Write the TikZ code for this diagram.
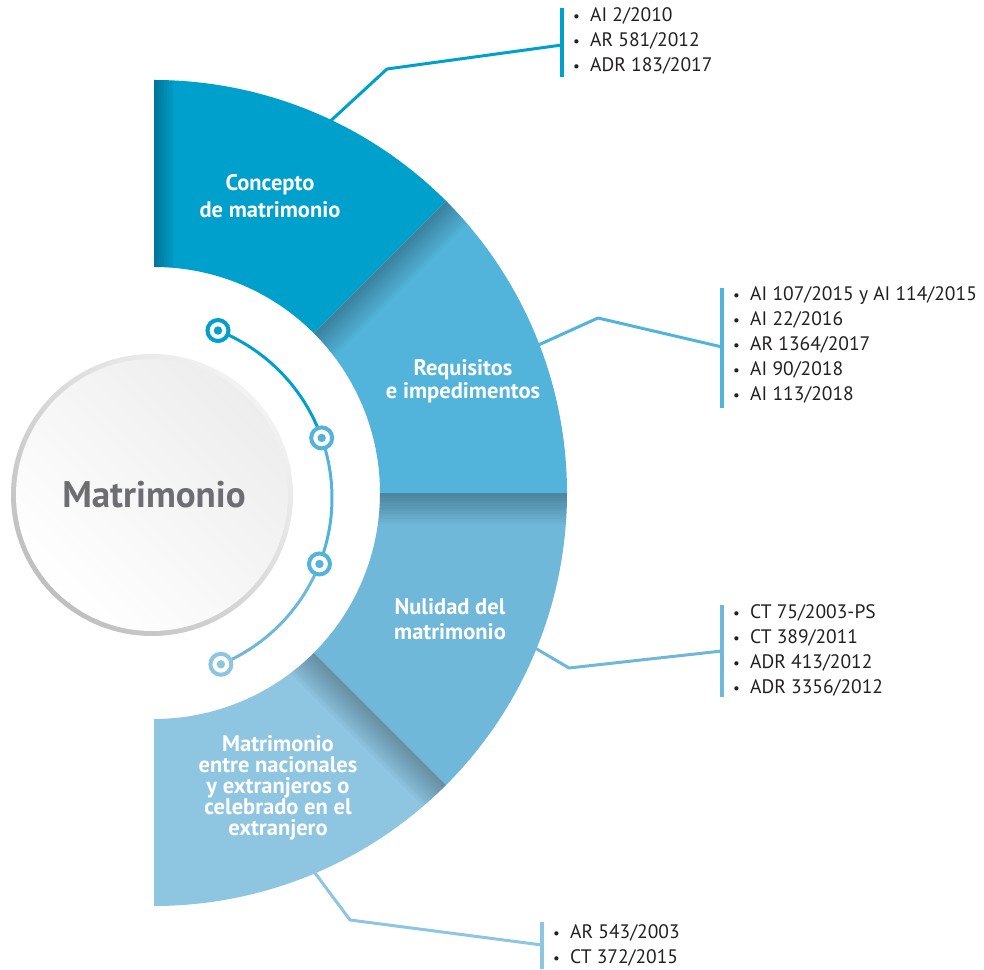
\documentclass[tikz,border=0pt]{standalone}
\usepackage{fontspec}
\setmainfont{PT Sans}
\usepackage{tikz}
\usetikzlibrary{calc, positioning}

\definecolor{segA}{HTML}{00A0CC}
\definecolor{segB}{HTML}{52B4DA}
\definecolor{segC}{HTML}{6FB8DA}
\definecolor{segD}{HTML}{8EC5E0}
\definecolor{hubgray}{HTML}{6D6E71}
\definecolor{reftext}{HTML}{231F20}

\tikzstyle{segtitle} = [text=white, font=\fontsize{22.5}{25}\selectfont\bfseries, align=center, inner sep=0pt]
\tikzstyle{reflist}  = [anchor=west, text=reftext, font=\fontsize{19.5}{25}\selectfont, align=left, inner sep=0pt]
\tikzstyle{callout}  = [line width=3pt, line join=round]
\tikzstyle{refbar}   = [line width=3.5pt]
\tikzstyle{knot}     = [circle, draw=#1, line width=4pt, fill=white, minimum size=21pt, inner sep=0pt,
                        path picture={\fill[#1] (path picture bounding box.center) circle[radius=4.2];}]

% annular sector between two angles
\newcommand{\annseg}[2]{(#1:413) arc[start angle=#1, end angle=#2, radius=413] -- (#2:226) arc[start angle=#2, end angle=#1, radius=226] -- cycle}
\newcommand{\refitem}[1]{\makebox[17pt][l]{\fontsize{15}{15}\selectfont\textbullet}#1}

\begin{document}
\begin{tikzpicture}[x=1pt, y=1pt]
  \useasboundingbox (0,0) rectangle (984,969);

  % callout lines (under the ring)
  \begin{scope}[shift={(154,476)}]
    \coordinate (c1s) at (65:405);
    \coordinate (c2s) at (21:405);
    \coordinate (c3s) at (-22:405);
    \coordinate (c4s) at (-67.3:405);
  \end{scope}
  \coordinate (c1k) at (387,900);  \coordinate (c1j) at (562,924);
  \coordinate (c2k) at (598,651);  \coordinate (c2j) at (722,622);
  \coordinate (c3k) at (569,301);  \coordinate (c3j) at (722,318);
  \coordinate (c4k) at (350,49);   \coordinate (c4j) at (542,24);
  \draw[callout, segA] (c1s) -- (c1k) -- (c1j);
  \draw[callout, segB] (c2s) -- (c2k) -- (c2j);
  \draw[callout, segC] (c3s) -- (c3k) -- (c3j);
  \draw[callout, segD] (c4s) -- (c4k) -- (c4j);
  \draw[refbar, segA] (562,961) coordinate (b1t) -- (562,892) coordinate (b1b);
  \draw[refbar, segB] (722,681) coordinate (b2t) -- (722,561) coordinate (b2b);
  \draw[refbar, segC] (722,364) coordinate (b3t) -- (722,272) coordinate (b3b);
  \draw[refbar, segD] (542,47) coordinate (b4t) -- (542,0) coordinate (b4b);

  % ring segments
  \begin{scope}[shift={(154,476)}]
    \fill[segA] \annseg{90}{45};
    \fill[segB] \annseg{45}{0};
    \fill[segC] \annseg{0}{-45};
    \fill[segD] \annseg{-45}{-90};
    % darker left edge of the first segment
    \begin{scope}
      \clip \annseg{90}{45};
      \foreach \k in {1,...,8}
        \fill[black, opacity=0.03] (0,0) rectangle (\k*2.5,420);
    \end{scope}
    % shadows under each boundary
    \foreach \ang in {45,0,-45}{
      \begin{scope}
        \clip \annseg{\ang}{\ang-45};
        \foreach \k in {1,...,12}
          \fill[black, opacity=0.022, rotate=\ang] (200,0) rectangle (430,-\k*2.6);
      \end{scope}
    }
  \end{scope}

  \node[segtitle, font=\fontsize{22.5}{27}\selectfont\bfseries] (t1) at (270,773) {Concepto\\de matrimonio};
  \node[segtitle, font=\fontsize{22.5}{23}\selectfont\bfseries] (t2) at (463,588) {Requisitos\\e impedimentos};
  \node[segtitle] (t3) at (450,350) {Nulidad del\\matrimonio};
  \node[segtitle, font=\fontsize{22.5}{21}\selectfont\bfseries] (t4) at (278,181) {Matrimonio\\entre nacionales\\y extranjeros o\\celebrado en el\\extranjero};

  % central disc
  \shade[top color=gray!10, bottom color=gray!50, shading angle=-45] (152,474) circle[radius=141];
  \shade[top color=gray!14, bottom color=white, shading angle=-45] (152,474) circle[radius=136];
  \node[text=hubgray, font=\fontsize{37}{42}\selectfont\bfseries] (hub) at (154,474) {Matrimonio};

  % arc with knots
  \begin{scope}[shift={(152,471)}]
    \draw[segA, line width=3pt] (68.5:180) arc[start angle=68.5, end angle=19.5, radius=180];
    \draw[segB, line width=3pt] (19.5:180) arc[start angle=19.5, end angle=-21.5, radius=180];
    \draw[segC, line width=3pt] (-21.5:180) arc[start angle=-21.5, end angle=-67.5, radius=180];
    \node[knot=segA] (k1) at (68.5:180) {};
    \node[knot=segB] (k2) at (19.5:180) {};
    \node[knot=segB] (k3) at (-21.5:180) {};
    \node[knot=segD] (k4) at (-67.5:180) {};
  \end{scope}

  % reference lists
  \node[reflist] (l1) at (573,928) {\refitem{AI 2/2010}\\\refitem{AR 581/2012}\\\refitem{ADR 183/2017}};
  \node[reflist] (l2) at (733,624) {\refitem{AI 107/2015 y AI 114/2015}\\\refitem{AI 22/2016}\\\refitem{AR 1364/2017}\\\refitem{AI 90/2018}\\\refitem{AI 113/2018}};
  \node[reflist] (l3) at (733,319) {\refitem{CT 75/2003-PS}\\\refitem{CT 389/2011}\\\refitem{ADR 413/2012}\\\refitem{ADR 3356/2012}};
  \node[reflist] (l4) at (553,24) {\refitem{AR 543/2003}\\\refitem{CT 372/2015}};
\end{tikzpicture}
\end{document}
